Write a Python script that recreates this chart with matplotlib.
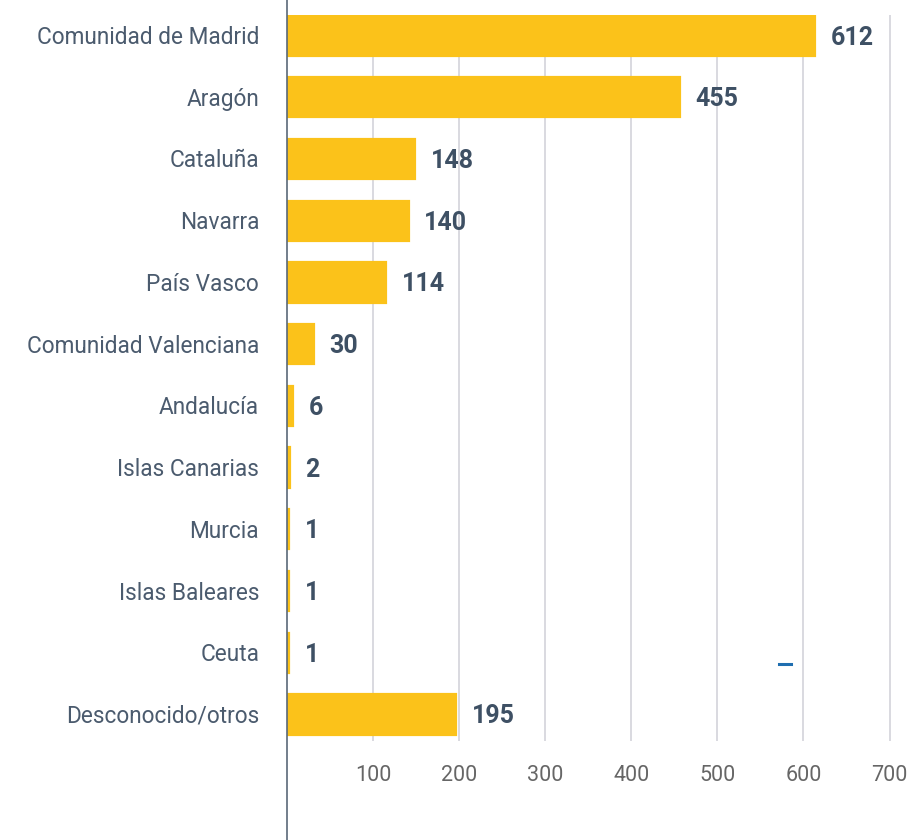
import numpy as np
import matplotlib
matplotlib.use('Agg')
import matplotlib.pyplot as plt
from matplotlib.lines import Line2D

regions = ['Comunidad de Madrid', 'Aragón', 'Cataluña', 'Navarra', 'País Vasco',
           'Comunidad Valenciana', 'Andalucía', 'Islas Canarias', 'Murcia',
           'Islas Baleares', 'Ceuta', 'Desconocido/otros']
counts = [612, 455, 148, 140, 114, 30, 6, 2, 1, 1, 1, 195]
ticks = [100, 200, 300, 400, 500, 600, 700]

BAR = '#FBC21A'
LABEL = '#3E5064'
CAT = '#4B5B6E'
GRID = '#D3D3DA'

plt.rcParams['font.family'] = ['Roboto', 'DejaVu Sans']

fig = plt.figure(figsize=(9.24, 8.4), dpi=100)
ax = fig.add_axes([287 / 924, 1 - 741 / 840, 1 - 287 / 924, 726 / 840])

y = np.arange(len(regions))
ax.barh(y, counts, height=0.635, color=BAR, edgecolor=BAR, linewidth=2.3,
        zorder=3)

for yi, v in zip(y, counts):
    ax.annotate(str(v), (v, yi), xytext=(12, 0), textcoords='offset points',
                va='center_baseline', ha='left', fontsize=18, fontweight='bold',
                color=LABEL)

ax.set_xlim(0, 740)
ax.set_ylim(11 + 27 / 61.7, -20 / 61.7)
ax.set_yticks(y)
ax.set_yticklabels(regions, fontsize=16.3, color=CAT)
ax.set_xticks(ticks)
ax.set_xticklabels([str(t) for t in ticks], fontsize=15.5, color='#666666')
ax.tick_params(axis='both', length=0)
ax.tick_params(axis='y', pad=20)
ax.tick_params(axis='x', pad=17)
ax.grid(axis='x', color=GRID, linewidth=1.2, zorder=0)
for s in ax.spines.values():
    s.set_visible(False)

# left axis line runs the full height of the figure
fig.add_artist(Line2D([287 / 924, 287 / 924], [0, 1], color='#5A6878',
                      linewidth=1.2, transform=fig.transFigure))
# small stray blue mark
fig.add_artist(Line2D([779 / 924, 791 / 924], [1 - 664 / 840, 1 - 664 / 840],
                      color='#1F6EB0', linewidth=2.2, transform=fig.transFigure))

fig.savefig('out.png', dpi=100)
